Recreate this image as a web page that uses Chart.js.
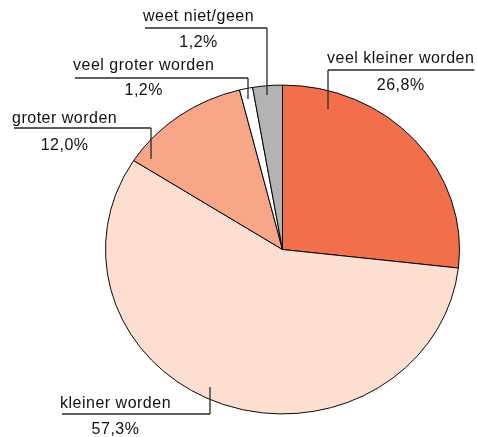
<!DOCTYPE html>
<html>
<head>
<meta charset="utf-8">
<script src="https://cdn.jsdelivr.net/npm/chart.js@4"></script>
<style>
  body { margin: 0; background: #fff; }
  #wrap { width: 477px; height: 437px; }
</style>
</head>
<body>
<div id="wrap"><canvas id="myChart" width="477" height="437"></canvas></div>
<script>
const categories = ['veel kleiner worden', 'kleiner worden', 'groter worden', 'veel groter worden', 'weet niet/geen']
// slice sizes as drawn in the picture (the last slice is drawn wider than its 1,2% label)
const values = [26.8, 57.3, 12.0, 1.2, 2.7]
const pctLabels = ['26,8%', '57,3%', '12,0%', '1,2%', '1,2%']
const colors = ['#f26f4c', '#fddfd1', '#f7a687', '#ffffff', '#b3b3b3']

// label placement: text left, text baseline, leader line y, vertical x, vertical end y, pct baseline
const labelPos = [
    {x: 327, y: 63, ly: 70, vx: 328, vy: 109, py: 90},
    {x: 60, y: 408, ly: 414, vx: 210, vy: 387, py: 434},
    {x: 12, y: 123, ly: 128, vx: 151, vy: 159, py: 150},
    {x: 73, y: 70, ly: 78, vx: 248, vy: 99, py: 95},
    {x: 143, y: 21, ly: 28, vx: 267, vy: 95, py: 47}
]

const squash = 0.929 // the pie is drawn slightly flattened

const ellipsePlugin = {
    id: 'ellipse',
    beforeDatasetsDraw(chart) {
        const ctx = chart.ctx
        const cy = chart.getDatasetMeta(0).data[0].y
        ctx.save()
        ctx.translate(0, cy)
        ctx.scale(1, squash)
        ctx.translate(0, -cy)
    },
    afterDatasetsDraw(chart) {
        chart.ctx.restore()
    }
}

const labelPlugin = {
    id: 'labels',
    afterDraw(chart) {
        const ctx = chart.ctx
        ctx.save()
        ctx.font = '16px "Liberation Sans", Arial, sans-serif'
        ctx.letterSpacing = '0.5px'
        ctx.fillStyle = '#111'
        ctx.strokeStyle = '#2a2a2a'
        ctx.lineWidth = 1.3
        categories.forEach((name, i) => {
            const p = labelPos[i]
            const w = ctx.measureText(name).width
            ctx.textAlign = 'left'
            ctx.textBaseline = 'alphabetic'
            ctx.fillText(name, p.x, p.y)
            ctx.textAlign = 'center'
            ctx.fillText(pctLabels[i], p.x + w / 2, p.py)

            const x0 = Math.min(p.x + 2, p.vx)
            const x1 = Math.max(p.x + w, p.vx)
            ctx.beginPath()
            ctx.moveTo(x0, p.ly)
            ctx.lineTo(x1, p.ly)
            ctx.moveTo(p.vx, p.ly)
            ctx.lineTo(p.vx, p.vy)
            ctx.stroke()
        })
        ctx.restore()
    }
}

const ctx = document.getElementById('myChart').getContext('2d')
const myChart = new Chart(ctx, {
    type: 'pie',
    data: {
        labels: categories,
        datasets: [{
            data: values,
            backgroundColor: colors,
            borderColor: '#000',
            borderWidth: 1
        }]
    },
    options: {
        responsive: false,
        animation: false,
        devicePixelRatio: 1,
        layout: {
            padding: {left: 105, right: 17, top: 72, bottom: 10}
        },
        plugins: {
            legend: {display: false},
            tooltip: {enabled: false}
        }
    },
    plugins: [ellipsePlugin, labelPlugin]
})
</script>
</body>
</html>
